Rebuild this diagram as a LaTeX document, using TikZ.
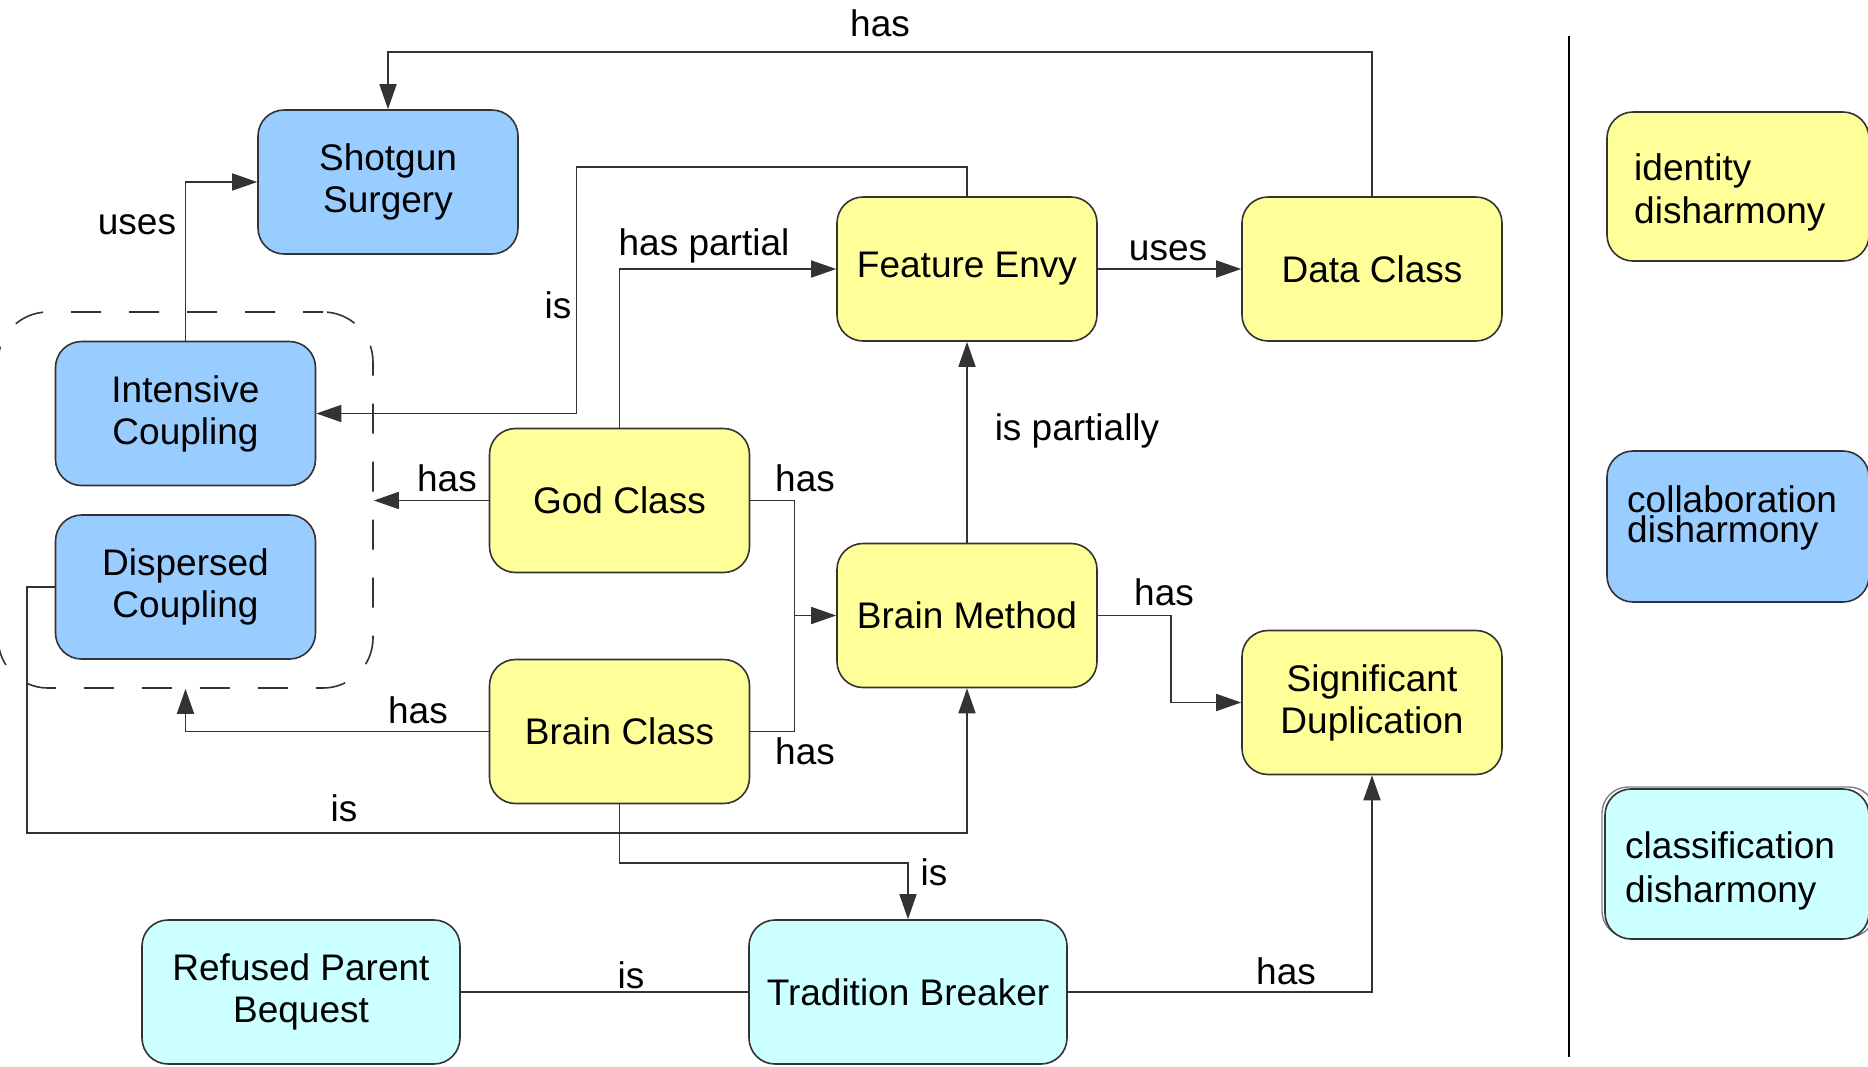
\documentclass[tikz,border=0pt]{standalone}
\usepackage{fontspec}
\setmainfont{Liberation Sans}
\usetikzlibrary{arrows.meta}
\definecolor{yel}{HTML}{FFFF99}
\definecolor{blu}{HTML}{99CCFF}
\definecolor{cya}{HTML}{CCFFFF}
\definecolor{edge}{HTML}{333333}
\definecolor{wire}{HTML}{333333}
\begin{document}
\begin{tikzpicture}[x=1pt,y=-1pt,
  txt/.style={font=\fontsize{37}{42}\selectfont},
  box/.style={txt, draw=edge, line width=1.6pt, rounded corners=26pt,
    minimum width=260pt, minimum height=144pt, align=center, inner sep=0pt},
  wide/.style={minimum width=318pt},
  ident/.style={box, fill=yel},
  collab/.style={box, fill=blu},
  classif/.style={box, fill=cya},
  legbox/.style={draw=edge, line width=1.6pt, rounded corners=26pt, inner sep=0pt},
  conn/.style={draw=wire, line width=1.6pt},
  arr/.style={conn, -{Triangle[length=25pt,width=17pt]}},
  lbl/.style={txt, anchor=base, inner sep=0pt},
  leg/.style={txt, anchor=base west, inner sep=0pt}]
\useasboundingbox (0,0) rectangle (1868,1066);
\clip (0,0) rectangle (1868,1066);

% group (dashed)
\node[draw=wire, line width=1.6pt, dash pattern=on 30pt off 28pt, dash phase=10pt,
  rounded corners=50pt, minimum width=375pt, minimum height=376pt, inner sep=0pt]
  (grp) at (185.5,500) {};

% nodes
\node[collab] (SS) at (388,182) {Shotgun\\Surgery};
\node[collab] (IC) at (185.5,413.5) {Intensive\\Coupling};
\node[collab] (DC) at (185.5,587) {Dispersed\\Coupling};
\node[ident] (GC) at (619.5,500.5) {God Class};
\node[ident] (FE) at (967,269) {Feature Envy};
\node[ident] (DaC) at (1372,269) {Data Class};
\node[ident] (BM) at (967,615.5) {Brain Method};
\node[ident] (SD) at (1372,702.5) {Significant\\Duplication};
\node[ident] (BC) at (619.5,731.5) {Brain Class};
\node[classif, wide] (RPB) at (301,992) {Refused Parent\\Bequest};
\node[classif, wide] (TB) at (908,992) {Tradition Breaker};

% connectors
\draw[arr] (DaC.north) -- ++(0,-144.5) -| (SS.north);
\draw[arr] (FE.north) |- (576.5,167) |- (IC.east);
\draw[arr] (GC.north) |- (FE.west);
\draw[arr] (IC.north) |- (SS.west);
\draw[arr] (FE.east) -- (DaC.west);
\draw[arr] (BM.north) -- (FE.south);
\draw[arr] (GC.west) -- (GC.west -| grp.east);
\coordinate (j) at (794.5,615.5);
\draw[arr] (GC.east) -| (j) -- (BM.west);
\draw[conn] (BC.east) -| (j);
\draw[arr] (BC.west) -| (grp.south);
\draw[arr] (DC.west) -- (27,587) -- (27,833) -| (BM.south);
\draw[arr] (BC.south) -- ++(0,58.5) -| (TB.north);
\draw[conn] (RPB.east) -- (TB.west);
\draw[arr] (TB.east) -| (SD.south);
\draw[arr] (BM.east) -- ++(73,0) |- (SD.west);

% connector labels
\node[lbl] at (880,36) {has};
\node[lbl] at (137,234.5) {uses};
\node[lbl] at (704,255) {has partial};
\node[lbl] at (558,318) {is};
\node[lbl] at (447,491.5) {has};
\node[lbl] at (805,491.5) {has};
\node[lbl] at (1168,260) {uses};
\node[lbl] at (1077,440.5) {is partially};
\node[lbl] at (418,723.5) {has};
\node[lbl] at (805,764) {has};
\node[lbl] at (344,821) {is};
\node[lbl] at (934,885) {is};
\node[lbl] at (631,988) {is};
\node[lbl] at (1286,984.5) {has};
\node[lbl] at (1164,605.5) {has};

% separator
\draw[line width=1.4pt, black] (1569,36) -- (1569,1057);

% legend
\node[legbox, fill=yel, minimum width=262pt, minimum height=149pt] (L1) at (1738,186.5) {};
\node[legbox, fill=blu, minimum width=262pt, minimum height=151pt] (L2) at (1738,526.5) {};
\draw[draw=gray, line width=1.4pt, rounded corners=26pt] (1602,787) rectangle (1875,937);
\node[legbox, fill=cya, minimum width=264pt, minimum height=150pt] (L3) at (1737,864) {};
\node[leg] at (1634,180) {identity};
\node[leg] at (1634,223) {disharmony};
\node[leg] at (1627,512) {collaboration};
\node[leg] at (1627,542) {disharmony};
\node[leg] at (1625,858) {classification};
\node[leg] at (1625,902) {disharmony};
\end{tikzpicture}
\end{document}
